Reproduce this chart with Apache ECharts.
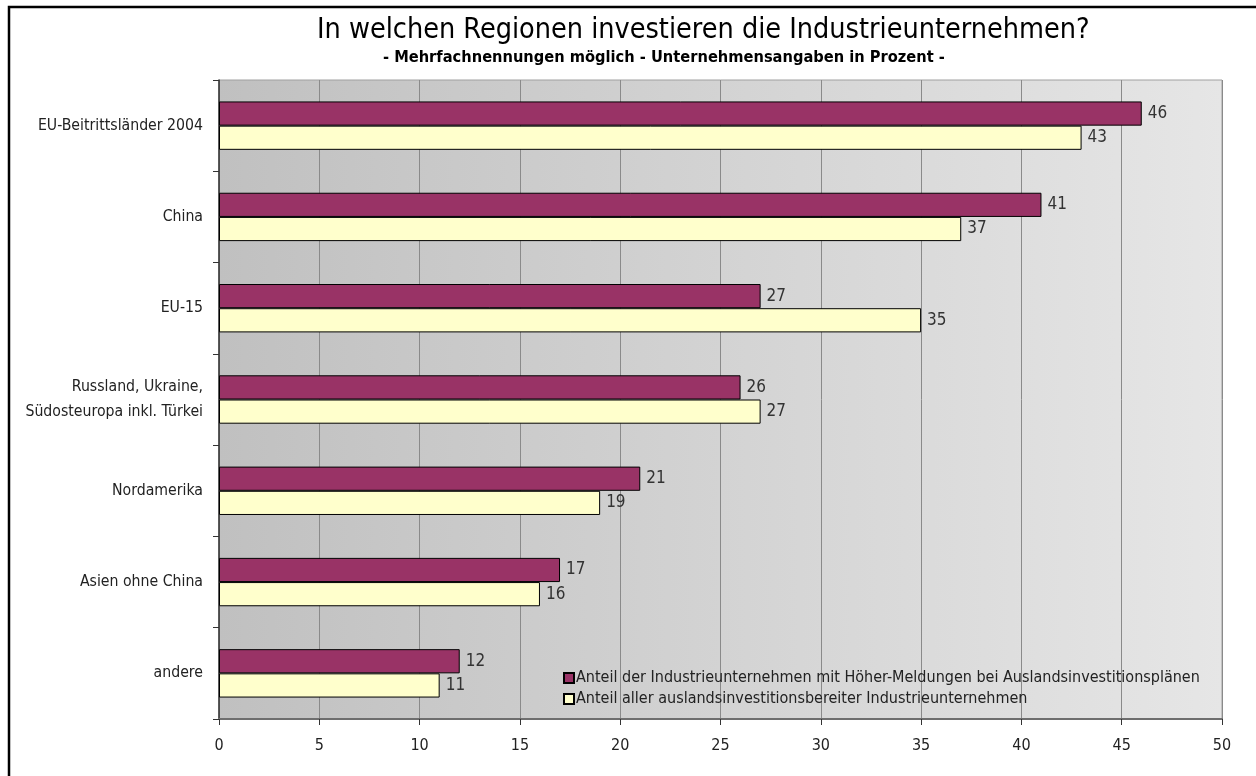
<!DOCTYPE html>
<html>
<head>
<meta charset="utf-8">
<script src="https://cdn.jsdelivr.net/npm/echarts@6/dist/echarts.min.js"></script>
<style>
  html, body { margin: 0; padding: 0; background: #fff; }
  #chart { width: 1256px; height: 776px; }
</style>
</head>
<body>
<div id="chart"></div>
<script>
// Daten
const regions = [
  "EU-Beitrittsländer 2004",
  "China",
  "EU-15",
  "Russland, Ukraine,\nSüdosteuropa inkl. Türkei",
  "Nordamerika",
  "Asien ohne China",
  "andere",
]
const hoeherMeldungen = [46, 41, 27, 26, 21, 17, 12]
const alleInvestoren = [43, 37, 35, 27, 19, 16, 11]
const seriesNames = [
  "Anteil der Industrieunternehmen mit Höher-Meldungen bei Auslandsinvestitionsplänen",
  "Anteil aller auslandsinvestitionsbereiter Industrieunternehmen",
]

const font = "'DejaVu Sans Condensed', 'Liberation Sans Narrow', sans-serif"
const chart = echarts.init(document.getElementById("chart"))

const barLabel = {
  show: true,
  position: "right",
  distance: 6,
  color: "#333",
  fontSize: 17,
  fontFamily: font,
}

const option = {
  backgroundColor: "#fff",
  animation: false,
  textStyle: { fontFamily: font },
  graphic: [
    {
      type: "rect",
      shape: { x: 9, y: 7, width: 1270, height: 800 },
      style: { fill: "none", stroke: "#000", lineWidth: 2.5 },
      silent: true,
    },
    {
      type: "text",
      left: 317,
      top: 16,
      style: {
        text: "In welchen Regionen investieren die Industrieunternehmen?",
        font: "28.5px " + font,
        fill: "#000",
      },
    },
    {
      type: "text",
      left: 383,
      top: 50,
      style: {
        text: "- Mehrfachnennungen möglich - Unternehmensangaben in Prozent -",
        font: "bold 16.3px " + font,
        fill: "#000",
      },
    },
  ],
  legend: {
    orient: "vertical",
    left: 558,
    top: 665,
    itemWidth: 10,
    itemHeight: 10,
    itemGap: 5,
    icon: "rect",
    data: seriesNames,
    textStyle: { fontSize: 16, color: "#222", fontFamily: font, padding: [0, 0, 0, -3] },
  },
  grid: {
    left: 219,
    right: 34,
    top: 80,
    bottom: 57,
    show: true,
    borderColor: "#a0a0a0",
    borderWidth: 1,
    backgroundColor: {
      type: "linear",
      x: 0, y: 0, x2: 1, y2: 0,
      colorStops: [
        { offset: 0, color: "#c0c0c0" },
        { offset: 1, color: "#e6e6e6" },
      ],
    },
  },
  xAxis: {
    type: "value",
    min: 0,
    max: 50,
    interval: 5,
    axisLine: { show: true, lineStyle: { color: "#6e6e6e", width: 2 } },
    axisTick: { show: true, length: 6, lineStyle: { color: "#333" } },
    axisLabel: { color: "#222", fontSize: 16, margin: 19, fontFamily: font },
    splitLine: { show: true, lineStyle: { color: "#8a8a8a", width: 1 } },
  },
  yAxis: {
    type: "category",
    inverse: true,
    data: regions,
    axisLine: { show: true, lineStyle: { color: "#333", width: 1.5 } },
    axisTick: { show: true, length: 6, lineStyle: { color: "#333" } },
    axisLabel: { color: "#222", fontSize: 15.7, margin: 16, lineHeight: 25, fontFamily: font },
  },
  series: [
    {
      name: seriesNames[0],
      type: "bar",
      data: hoeherMeldungen,
      barGap: "0%",
      barCategoryGap: "47%",
      itemStyle: { color: "#993366", borderColor: "#000", borderWidth: 1 },
      label: barLabel,
    },
    {
      name: seriesNames[1],
      type: "bar",
      data: alleInvestoren,
      barGap: "0%",
      barCategoryGap: "47%",
      itemStyle: { color: "#ffffcc", borderColor: "#000", borderWidth: 1 },
      label: barLabel,
    },
  ],
}

chart.setOption(option)
</script>
</body>
</html>
